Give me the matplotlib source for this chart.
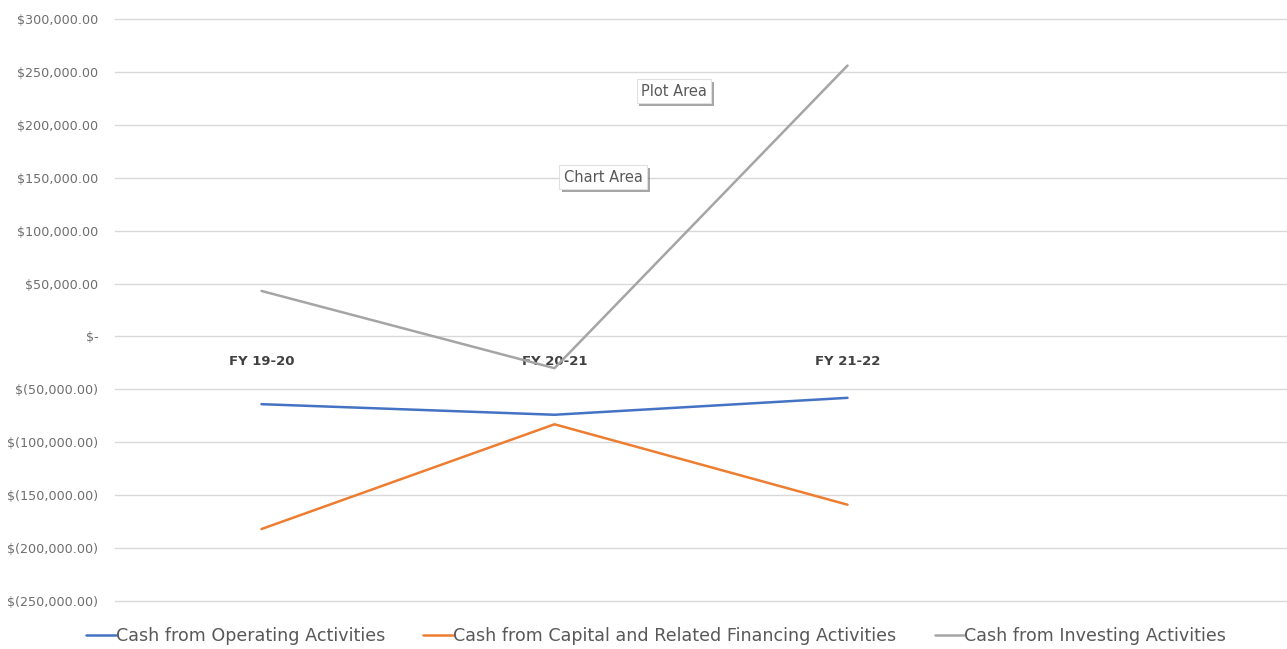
import matplotlib
matplotlib.use("Agg")
import matplotlib.pyplot as plt
import matplotlib.patheffects as pe
from matplotlib.ticker import FuncFormatter, MultipleLocator

categories = ["FY 19-20", "FY 20-21", "FY 21-22", ""]
operating = [-64000, -74000, -58000]
capital = [-182000, -83000, -159000]
investing = [43000, -30000, 256000]
series_names = ["Cash from Operating Activities",
                "Cash from Capital and Related Financing Activities",
                "Cash from Investing Activities"]
colors = ["#4472C4", "#ED7D31", "#A5A5A5"]

fig = plt.figure(figsize=(12.87, 6.49), dpi=100)
ax = fig.add_axes([115/1287, 1-601/649, 1172/1287, (601-19)/649])

x = list(range(len(operating)))
for vals, name, c in zip([operating, capital, investing], series_names, colors):
    ax.plot(x, vals, color=c, lw=1.8, label=name, solid_capstyle="round")

ax.set_xlim(-0.5, 3.5)
ax.set_ylim(-250000, 300000)
ax.yaxis.set_major_locator(MultipleLocator(50000))

def fmt(v, pos):
    if abs(v) < 1e-6:
        return "$-"
    if v < 0:
        return "$({:,.2f})".format(-v)
    return "${:,.2f}".format(v)

ax.yaxis.set_major_formatter(FuncFormatter(fmt))
ax.grid(axis="y", color="#D9D9D9", lw=1)
for gl in ax.get_ygridlines():
    gl.set_clip_on(False)
ax.set_axisbelow(True)
for s in ax.spines.values():
    s.set_visible(False)
ax.spines["bottom"].set_position(("data", 0))
ax.set_xticks(range(len(categories)))
ax.set_xticklabels(categories, fontweight="bold", color="#404040", fontsize=9.5)
ax.tick_params(axis="x", length=0, pad=13)
ax.tick_params(axis="y", length=0, pad=12, labelcolor="#6E6E6E", labelsize=9.2)

for txt, xx, yy in [("Plot Area", 674, 91), ("Chart Area", 603, 177)]:
    t = fig.text(xx/1287, 1-yy/649, txt, ha="center", va="center", fontsize=10.5,
                 color="#595959",
                 bbox=dict(boxstyle="square,pad=0.3", fc="white", ec="#E0E0E0", lw=0.8))
    fig.canvas.draw()
    t.get_bbox_patch().set_path_effects([pe.SimplePatchShadow(offset=(2, -2), alpha=0.5), pe.Normal()])

leg = fig.legend(loc="center", bbox_to_anchor=(656/1287, 1-636/649), ncol=3, frameon=False,
                 fontsize=12.6, handlelength=1.7, handletextpad=0.0, columnspacing=2.2,
                 labelcolor="#595959")

fig.savefig("out.png", dpi=100)
